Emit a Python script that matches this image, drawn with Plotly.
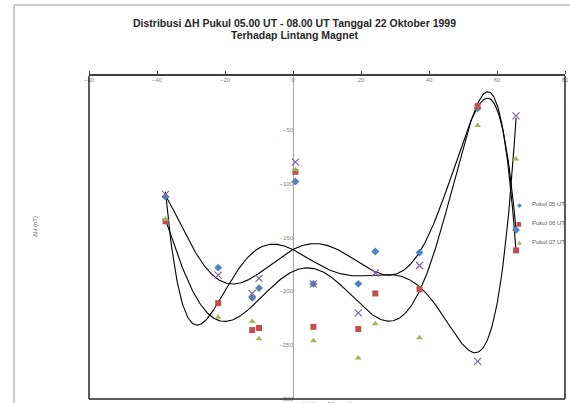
import numpy as np
import plotly.graph_objects as go

# Magnetic latitude of stations (x) and ΔH (nT) values per hour
lat = [-37.5, -22, -12, -10, 0.7, 6, 19.2, 24.2, 37.2, 54.3, 65.6]
pukul05 = [-112, -178, -206, -197, -98, -193, -193, -163, -164, -30, -143]
pukul06 = [-135, -211, -236, -234, -89, -233, -235, -202, -198, -28, -162]
pukul07 = [-133, -224, -228, -244, -87, -246, -262, -230, -243, -46, -77]
pukul08 = [-110, -185, -202, -188, -80, -193, -220, -183, -176, -265, -37]

x_ticks = [-60, -40, -20, 0, 20, 40, 60, 80]
y_ticks = [-300, -250, -200, -150, -100, -50]

W, H = 570, 403
L, R, T, B = 89, 5, 76, 4

fig = go.Figure()

# name, values, colour, marker, size, legend glyph, has polynomial trendline
series = [
    ("Pukul 05 UT", pukul05, "#4F81BD", "diamond", 6, "◆", True),
    ("Pukul 06 UT", pukul06, "#C0504D", "square", 6, "■", True),
    ("Pukul 07 UT", pukul07, "#9BBB59", "triangle-up", 6, "▲", False),
    ("Pukul 08 UT", pukul08, "#8064A2", "x-thin", 7, None, True),
]

# trendlines: 6th-order polynomial least-squares fits to the series
for name, vals, col, sym, size, glyph, trend in series:
    if not trend:
        continue
    xs = np.array(lat, float)
    ys = np.array(vals, float)
    coef = np.polyfit(xs, ys, 6)
    xf = np.linspace(xs.min(), xs.max(), 400)
    fig.add_trace(go.Scatter(x=xf, y=np.polyval(coef, xf), mode="lines",
                             line=dict(color="black", width=1.1),
                             showlegend=False, hoverinfo="skip"))

for name, vals, col, sym, size, glyph, trend in series:
    if sym == "x-thin":
        mk = dict(symbol=sym, size=size, line=dict(color=col, width=1.2), color=col)
    else:
        mk = dict(symbol=sym, size=size, color=col, line=dict(width=0))
    fig.add_trace(go.Scatter(x=lat, y=vals, mode="markers", name=name,
                             marker=mk, showlegend=False))

fig.update_layout(
    width=W, height=H,
    margin=dict(l=L, r=R, t=T, b=B),
    paper_bgcolor="white", plot_bgcolor="white",
    font=dict(family="Liberation Sans, Arial, sans-serif", size=6, color="#595959"),
    xaxis=dict(range=[-60, 80], side="top", tickvals=x_ticks, automargin=False,
               ticklabelposition="inside", ticklabeloverflow="allow",
               showgrid=False, zeroline=True,
               zerolinecolor="#A6A6A6", zerolinewidth=1,
               showline=True, linecolor="#404040", linewidth=1.5,
               ticks="outside", ticklen=3, tickcolor="#404040",
               tickfont=dict(size=6, color="#7f7f7f")),
    yaxis=dict(range=[-300, 0], tickvals=y_ticks, anchor="free", automargin=False,
               position=60 / 140, showgrid=False, zeroline=False,
               showline=False, ticks="", tickfont=dict(size=6, color="#7f7f7f")),
    showlegend=False,
)

def px_x(p):
    return (p - L) / (W - L - R)

def px_y(p):
    return (H - B - p) / (H - T - B)

# plot-area border (left, bottom, right)
fig.add_shape(type="line", xref="paper", yref="paper", x0=0, x1=0, y0=0, y1=1,
              line=dict(color="#262626", width=1.5))
fig.add_shape(type="line", xref="paper", yref="paper", x0=0, x1=1, y0=0, y1=0,
              line=dict(color="#262626", width=1.5))
fig.add_shape(type="line", xref="paper", yref="paper", x0=1, x1=1, y0=0, y1=1,
              line=dict(color="#262626", width=1.5))

# screenshot frame lines (top and left)
fig.add_shape(type="line", xref="paper", yref="paper", x0=px_x(14), x1=px_x(570),
              y0=px_y(5), y1=px_y(5), line=dict(color="#9a9a9a", width=1))
fig.add_shape(type="line", xref="paper", yref="paper", x0=px_x(14), x1=px_x(14),
              y0=px_y(5), y1=px_y(403), line=dict(color="#9a9a9a", width=1))

# legend (drawn as text, partially cut at right edge as in the original)
for i, (name, vals, col, sym, size, glyph, trend) in enumerate(series[:3]):
    yy = 204 + 19 * i
    fig.add_annotation(text=glyph, xref="paper", yref="paper", x=px_x(524), y=px_y(yy),
                       showarrow=False, font=dict(size=6, color=col,
                                                  family="DejaVu Sans"))
    fig.add_annotation(text=name, xref="paper", yref="paper", x=px_x(530), y=px_y(yy),
                       xanchor="left", showarrow=False,
                       font=dict(size=6, color="#595959"))

# title
fig.add_annotation(text="<b>Distribusi ΔH Pukul 05.00 UT - 08.00 UT Tanggal 22 Oktober 1999</b>",
                   xref="paper", yref="paper", x=px_x(294), y=px_y(15),
                   showarrow=False, font=dict(size=10.5, color="#262626"))
fig.add_annotation(text="<b>Terhadap Lintang Magnet</b>",
                   xref="paper", yref="paper", x=px_x(294), y=px_y(27),
                   showarrow=False, font=dict(size=10.5, color="#262626"))

# axis titles
fig.add_annotation(text="ΔH (nT)", xref="paper", yref="paper", x=px_x(30), y=px_y(227),
                   textangle=-90, showarrow=False, font=dict(size=6, color="#595959"))
fig.add_annotation(text="Lintang Magnet", xref="paper", yref="paper", x=px_x(327), y=px_y(399),
                   yanchor="top", showarrow=False, font=dict(size=7, color="#595959"))

fig.write_html("out.html")
